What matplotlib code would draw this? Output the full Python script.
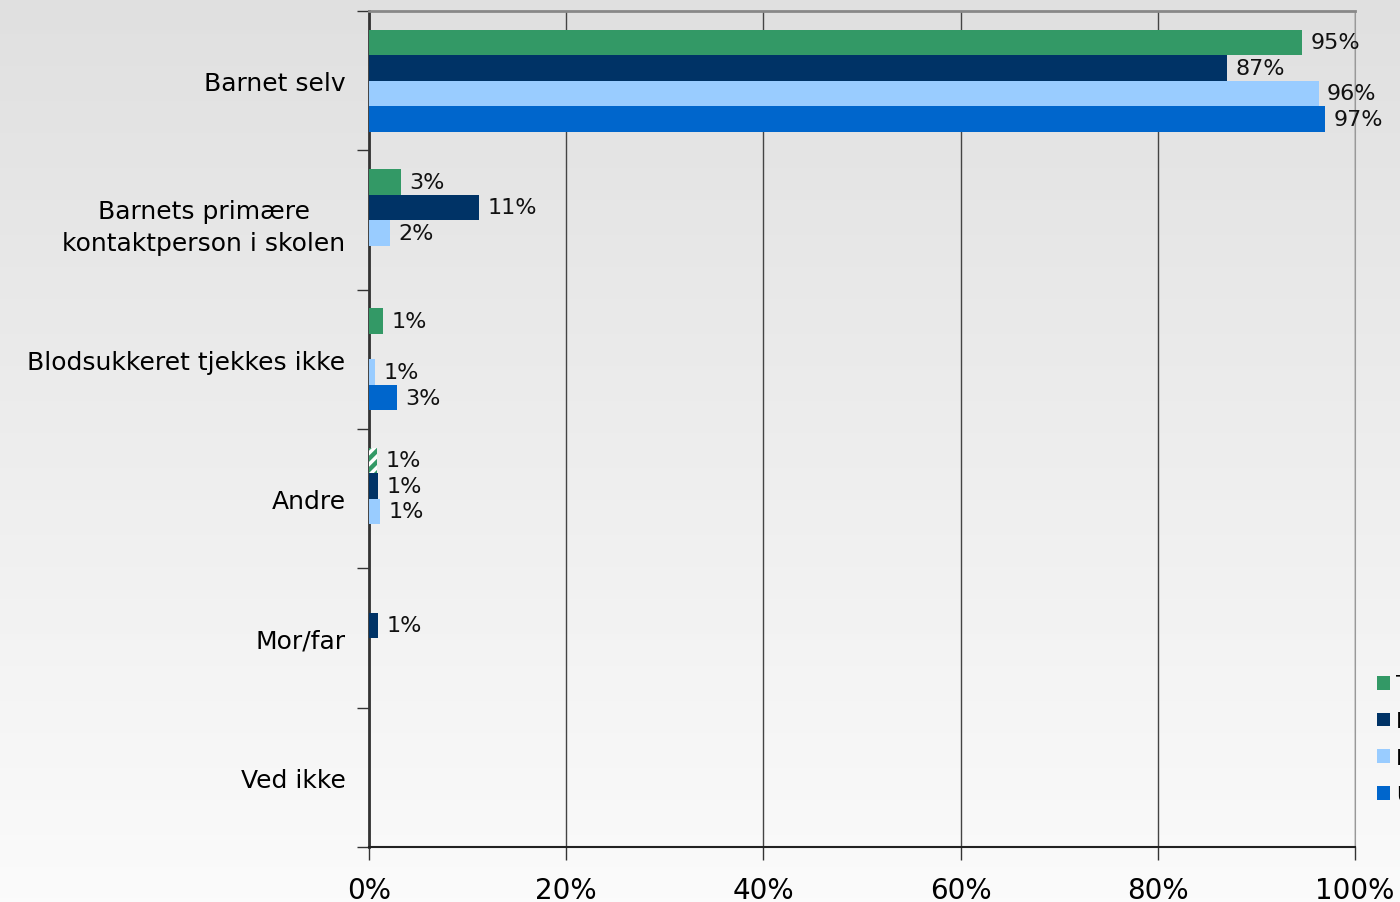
import matplotlib
matplotlib.use("Agg")
import matplotlib.pyplot as plt
import numpy as np

# categories top to bottom
categories = ["Barnet selv", "Barnets primære\nkontaktperson i skolen",
              "Blodsukkeret tjekkes ikke", "Andre", "Mor/far", "Ved ikke"]

# series (legend names are cut off at the right edge of the original)
series_names = ["Total", "Indskoling", "Mellemtrin", "Udskoling"]
series_colors = ["#339966", "#003366", "#99CCFF", "#0066CC"]

# percentages (nan = no bar)
s1 = [94.6, 3.2, 1.4, 0.8, np.nan, np.nan]
s2 = [87.0, 11.2, np.nan, 0.9, 0.9, np.nan]
s3 = [96.3, 2.1, 0.6, 1.1, np.nan, np.nan]
s4 = [97.0, np.nan, 2.8, np.nan, np.nan, np.nan]
all_series = [s1, s2, s3, s4]

# the green bar for "Andre" is hatched in the original
hatched = (0, 3)

xticks = [0, 20, 40, 60, 80, 100]

plt.rcParams["hatch.linewidth"] = 2.5

fig = plt.figure(figsize=(14, 9.03), dpi=100)

# grey-to-white vertical gradient background
bg = fig.add_axes([0, 0, 1, 1], zorder=-10)
grad = np.linspace(0, 1, 256).reshape(-1, 1)
bg.imshow(grad, aspect="auto", cmap=matplotlib.colors.LinearSegmentedColormap.from_list(
    "bg", ["#e0e0e0", "#fbfbfb"]), extent=[0, 1, 0, 1], origin="upper")
bg.set_axis_off()

ax = fig.add_axes([0.2636, 0.0609, 0.7043, 0.9258])
ax.set_facecolor("none")

n = len(categories)
y = np.arange(n)
h = 0.183

for k, (vals, col, name) in enumerate(zip(all_series, series_colors, series_names)):
    pos = y + (k - 1.5) * h
    vals = np.array(vals, dtype=float)
    bars = ax.barh(pos, np.nan_to_num(vals), height=h, color=col, label=name,
                   linewidth=0, zorder=3)
    for i, (b, v) in enumerate(zip(bars, vals)):
        if np.isnan(v):
            b.set_visible(False)
            continue
        if (k, i) == hatched:
            b.set_hatch("///")
            b.set_edgecolor("white")
        ax.annotate(f"{round(v)}%", (v, pos[i]), xytext=(6, 0),
                    textcoords="offset points", va="center", ha="left",
                    fontsize=16, color="#111111", zorder=4)

ax.set_xlim(0, 100)
ax.set_ylim(n - 0.5, -0.5)
ax.set_xticks(xticks)
ax.set_xticklabels([f"{t}%" for t in xticks], fontsize=20)
ax.set_yticks(y)
ax.set_yticklabels(categories, fontsize=18, multialignment="center", linespacing=1.45)
ax.set_yticks(np.arange(n + 1) - 0.5, minor=True)
ax.tick_params(axis="y", which="major", length=0, pad=17)
ax.tick_params(axis="y", which="minor", length=9, width=1, color="#333333", direction="out")
ax.tick_params(axis="x", length=9, width=1, color="#333333", pad=12, direction="out")

ax.grid(axis="x", color="#444444", linewidth=1, zorder=1)
ax.spines["left"].set_color("#333333")
ax.spines["left"].set_linewidth(2)
ax.spines["bottom"].set_color("#222222")
ax.spines["bottom"].set_linewidth(1.5)
ax.spines["top"].set_color("#888888")
ax.spines["top"].set_linewidth(2)
ax.spines["right"].set_color("#999999")

handles, labels = ax.get_legend_handles_labels()
leg = ax.legend(handles, labels, loc="upper left", bbox_to_anchor=(0.9836, 0.252),
                bbox_transform=fig.transFigure, frameon=False, fontsize=16,
                handlelength=0.59, handleheight=0.59, handletextpad=0.27,
                labelspacing=0.76, borderaxespad=0, borderpad=0)

fig.savefig("out.png", dpi=100)
